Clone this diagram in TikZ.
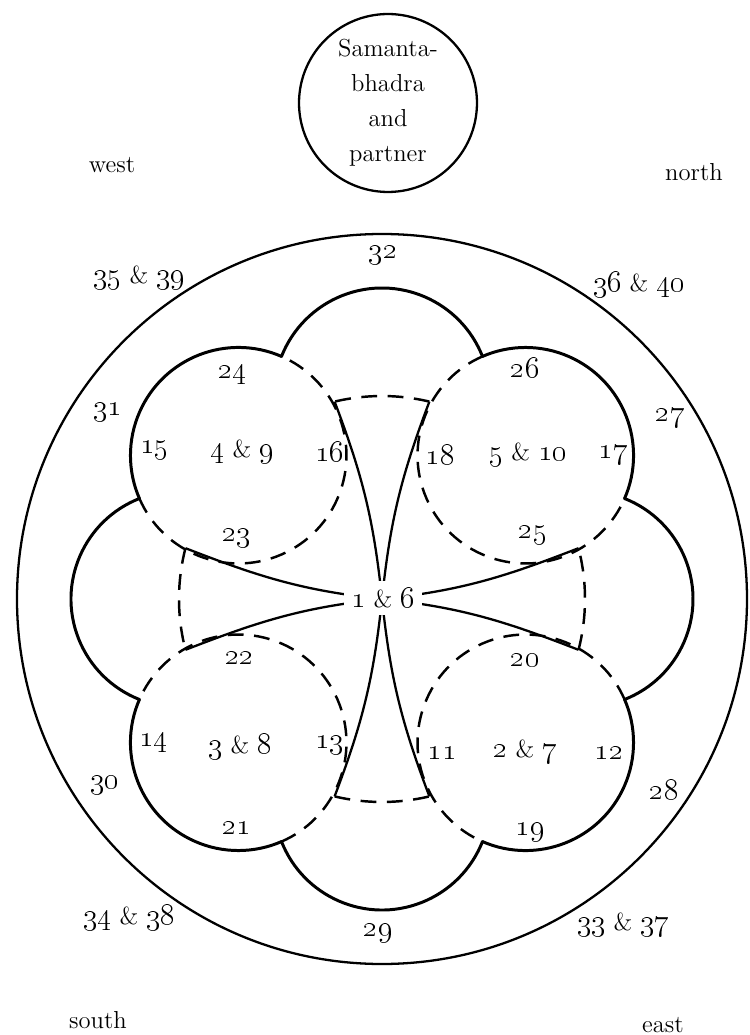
\documentclass[tikz,border=0pt]{standalone}
\usepackage{tikz}
\usetikzlibrary{calc}
\newcommand{\onum}[1]{{\fontsize{16}{20}\selectfont\oldstylenums{#1}}}

\begin{document}
\begin{tikzpicture}[x=0.02cm, y=0.02cm,
  every node/.style={font=\fontsize{14}{20}\selectfont, inner sep=1pt},
  rim/.style={draw=black, line width=1.3pt},
  lobe/.style={draw=black, line width=1.7pt, line cap=round},
  hidden/.style={draw=black, line width=1.4pt, dash pattern=on 9pt off 6pt},
  arm/.style={draw=black, line width=1.3pt},
  deity/.style={circle, draw=black, line width=1.3pt, minimum size=3.56cm, align=center, inner sep=0pt}]
  \useasboundingbox (-382,-436) rectangle (368,599);
  \coordinate (mid) at (0,0);
  \draw[rim] (mid) circle[radius=365];
  \node[deity] (top) at (6,496) {Samanta-\\bhadra\\and\\partner};
  % scalloped outline of the eight petals
  \foreach \a [evaluate=\a as \s using \a-68.5, evaluate=\a as \e using \a+68.5] in {0,45,...,315}
    \draw[lobe] (\a:203) ++(\s:108) arc[start angle=\s, end angle=\e, radius=108];
  \foreach \a [evaluate=\a as \s using \a+68.5, evaluate=\a as \e using \a+291.5] in {45,135,225,315}
    \draw[hidden] (\a:203) ++(\s:108) arc[start angle=\s, end angle=\e, radius=108];
  % the cross
  \foreach \p/\w in {0/14.5,90/13.5,180/14.5,270/13.5} {
    \pgfmathsetmacro{\ta}{\p+\w}
    \pgfmathsetmacro{\tb}{\p-\w}
    \pgfmathsetmacro{\oa}{\p+194+\w/2}
    \pgfmathsetmacro{\ob}{\p+166-\w/2}
    \pgfmathsetmacro{\ia}{\p+6}
    \pgfmathsetmacro{\ib}{\p-6}
    \coordinate (tl\p) at (\ta:203);
    \coordinate (tr\p) at (\tb:203);
    \draw[arm] (tl\p) to[out=\oa, in=\ia] (mid);
    \draw[arm] (tr\p) to[out=\ob, in=\ib] (mid);
    \draw[hidden] (tr\p) arc[start angle=\tb, end angle=\ta, radius=203];
  }
  \node[fill=white, inner sep=4pt] (c1) at (1,1) {\onum{1} \& \onum{6}};
  % quarters
  \node (west) at (-270,434) {west};
  \node (north) at (312,427) {north};
  \node (south) at (-284,-421) {south};
  \node (east) at (281,-426) {east};
  % ring
  \node (l32) at (1,344) {\onum{32}};
  \node (l35) at (-243,321) {\onum{35} \& \onum{39}};
  \node (l36) at (257,314) {\onum{36} \& \onum{40}};
  \node (l31) at (-274,187) {\onum{31}};
  \node (l27) at (288,181) {\onum{27}};
  \node (l30) at (-277,-186) {\onum{30}};
  \node (l28) at (282,-191) {\onum{28}};
  \node (l34) at (-253,-319) {\onum{34} \& \onum{38}};
  \node (l29) at (-4,-334) {\onum{29}};
  \node (l33) at (241,-326) {\onum{33} \& \onum{37}};
  % petals
  \node (l24) at (-149,224) {\onum{24}};
  \node (l26) at (143,231) {\onum{26}};
  \node (l15) at (-227,149) {\onum{15}};
  \node (c4) at (-140,147) {\onum{4} \& \onum{9}};
  \node (l16) at (-52,147) {\onum{16}};
  \node (l18) at (58,144) {\onum{18}};
  \node (c5) at (146,144) {\onum{5} \& \onum{10}};
  \node (l17) at (231,144) {\onum{17}};
  \node (l23) at (-145,61) {\onum{23}};
  \node (l25) at (151,64) {\onum{25}};
  \node (l22) at (-142,-59) {\onum{22}};
  \node (l20) at (143,-61) {\onum{20}};
  \node (l14) at (-228,-144) {\onum{14}};
  \node (c3) at (-142,-148) {\onum{3} \& \onum{8}};
  \node (l13) at (-52,-146) {\onum{13}};
  \node (l11) at (60,-154) {\onum{11}};
  \node (c2) at (143,-153) {\onum{2} \& \onum{7}};
  \node (l12) at (227,-154) {\onum{12}};
  \node (l21) at (-145,-229) {\onum{21}};
  \node (l19) at (148,-233) {\onum{19}};
\end{tikzpicture}
\end{document}
